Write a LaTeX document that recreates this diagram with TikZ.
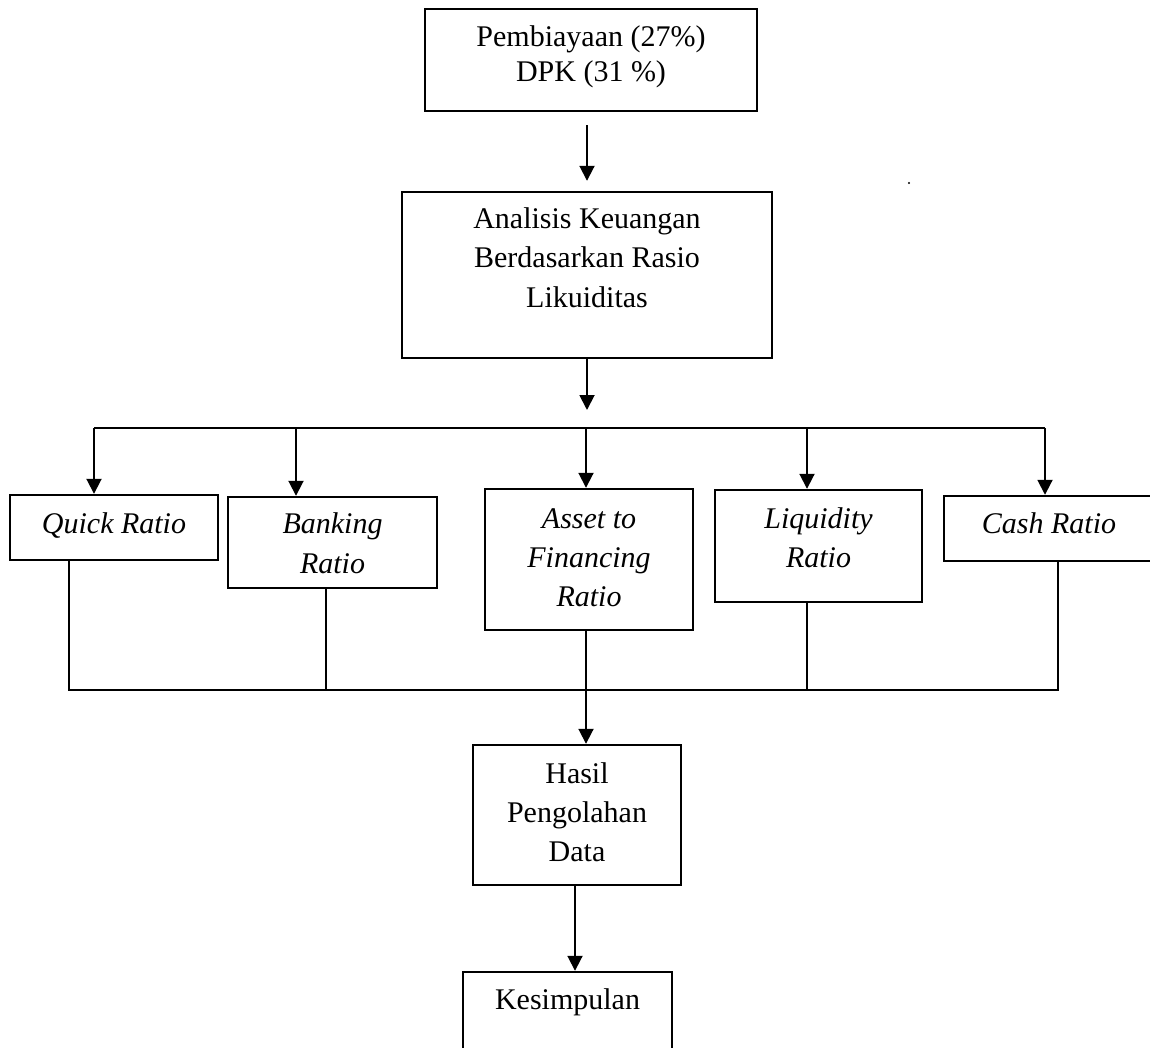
\documentclass[tikz,border=0pt]{standalone}
\usepackage{fontspec}
\setmainfont{Liberation Serif}
\usetikzlibrary{arrows.meta}
\begin{document}
\begin{tikzpicture}[x=1pt,y=-1pt,
  box/.style={draw=black, line width=2.4pt, inner sep=0pt, fill=none},
  txt/.style={anchor=base, inner sep=0pt, font=\fontsize{30}{36}\selectfont},
  itxt/.style={txt, font=\fontsize{30}{36}\selectfont\itshape},
  conn/.style={draw=black, line width=1.9pt},
  arr/.style={conn, -{Triangle[width=15pt,length=15pt]}}]
\useasboundingbox (0,0) rectangle (1150,1048);
\fill[white] (0,0) rectangle (1150,1048);

% boxes
\node[box, minimum width=332pt, minimum height=102pt] (b1) at (591,60) {};
\node[box, minimum width=370pt, minimum height=166pt] (b2) at (587,275) {};
\node[box, minimum width=208pt, minimum height=65pt] (q) at (114,527.5) {};
\node[box, minimum width=209pt, minimum height=91pt] (bk) at (332.5,542.5) {};
\node[box, minimum width=208pt, minimum height=141pt] (as) at (589,559.5) {};
\node[box, minimum width=207pt, minimum height=112pt] (lq) at (818.5,546) {};
\node[box, minimum width=210pt, minimum height=65pt] (cr) at (1049,528.5) {};
\node[box, minimum width=208pt, minimum height=140pt] (h) at (577,815) {};
\node[box, minimum width=209pt, minimum height=108pt] (k) at (567.5,1026) {};

% texts
\node[txt] (b1t1) at (591,47) {Pembiayaan (27\%)};
\node[txt] (b1t2) at (591,82) {DPK (31 \%)};
\node[txt] (b2t1) at (587,229) {Analisis Keuangan};
\node[txt] (b2t2) at (587,268) {Berdasarkan Rasio};
\node[txt] (b2t3) at (587,308) {Likuiditas};
\node[itxt] (qt1) at (114,533) {Quick Ratio};
\node[itxt] (bkt1) at (332.5,533) {Banking};
\node[itxt] (bkt2) at (332.5,573) {Ratio};
\node[itxt] (ast1) at (589,528) {Asset to};
\node[itxt] (ast2) at (589,567) {Financing};
\node[itxt] (ast3) at (589,606) {Ratio};
\node[itxt] (lqt1) at (818.5,528) {Liquidity};
\node[itxt] (lqt2) at (818.5,567) {Ratio};
\node[itxt] (crt1) at (1049,533) {Cash Ratio};
\node[txt] (ht1) at (577,783) {Hasil};
\node[txt] (ht2) at (577,822) {Pengolahan};
\node[txt] (ht3) at (577,861) {Data};
\node[txt] (kt1) at (567.5,1009) {Kesimpulan};

% stray dot
\fill (909,183) circle (1.2pt);

% top connectors
\draw[arr, shorten <=13pt, shorten >=10pt] (b1.south -| b2.north) -- (b2.north);
\coordinate (busL) at (94,428);
\coordinate (d2) at (296,428);
\coordinate (d3) at (586,428);
\coordinate (d4) at (807,428);
\coordinate (busR) at (1045,428);
\draw[arr, shorten >=18pt] (b2.south) -- (b2.south |- busL);
\draw[conn] (busL) -- (busR);
\draw[arr] (busL) -- (busL |- q.north);
\draw[arr] (d2) -- (d2 |- bk.north);
\draw[arr] (d3) -- (d3 |- as.north);
\draw[arr] (d4) -- (d4 |- lq.north);
\draw[arr] (busR) -- (busR |- cr.north);

% bottom connectors
\coordinate (u1) at (69,690);
\coordinate (u2) at (326,690);
\coordinate (u3) at (586,690);
\coordinate (u4) at (807,690);
\coordinate (u5) at (1058,690);
\draw[conn] (u1 |- q.south) -- (u1) -- (u5) -- (u5 |- cr.south);
\draw[conn] (u2 |- bk.south) -- (u2);
\draw[conn] (u4 |- lq.south) -- (u4);
\draw[arr] (u3 |- as.south) -- (u3 |- h.north);
\coordinate (hk) at (575,885);
\draw[arr] (hk) -- (hk |- k.north);
\end{tikzpicture}
\end{document}
